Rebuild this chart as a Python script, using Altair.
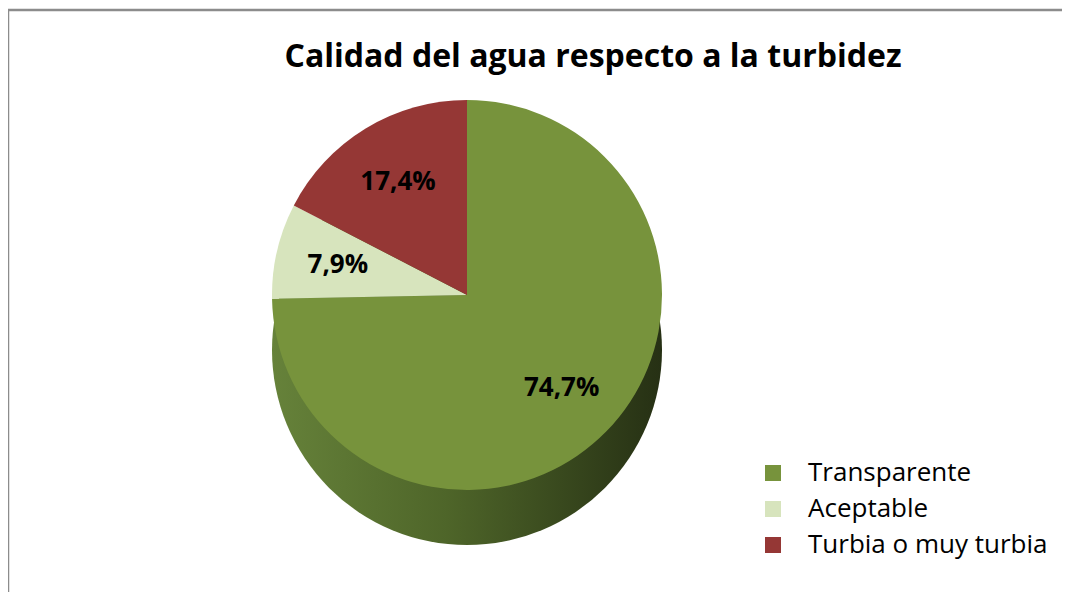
import altair as alt
import pandas as pd

titulo = "Calidad del agua respecto a la turbidez"
categorias = ["Transparente", "Aceptable", "Turbia o muy turbia"]
valores = [74.7, 7.9, 17.4]
colores = ["#77933C", "#D7E4BD", "#953735"]
etiquetas = [f"{v:.1f}".replace(".", ",") + "%" for v in valores]

df = pd.DataFrame({
    "categoria": categorias,
    "valor": valores,
    "etiqueta": etiquetas,
    "orden": list(range(len(categorias))),
})
df_side = pd.DataFrame({"valor": [sum(valores)]})
df_title = pd.DataFrame({"t": [titulo]})

W, H = 1054, 584
CX, CY = 459, 287
R = 195
DEPTH = 55
FONT = "Open Sans"

border = pd.DataFrame({"k": [0]})
top_rule = alt.Chart(border).mark_rule(color="#8c8c8c", strokeWidth=2.5).encode(
    x=alt.value(0), x2=alt.value(W), y=alt.value(2)
)
left_rule = alt.Chart(border).mark_rule(color="#8c8c8c", strokeWidth=2.5).encode(
    x=alt.value(0), y=alt.value(2), y2=alt.value(H)
)

side_grad = alt.LinearGradient(
    gradient="linear",
    stops=[
        alt.GradientStop(offset=0, color="#66823a"),
        alt.GradientStop(offset=0.45, color="#4e6529"),
        alt.GradientStop(offset=1, color="#263014"),
    ],
    x1=0, x2=1, y1=0, y2=0,
)
side = alt.Chart(df_side).mark_arc(radius=R, fill=side_grad).encode(
    theta=alt.Theta("valor:Q", stack=True),
    x=alt.value(CX),
    y=alt.value(CY + DEPTH),
)

pie = alt.Chart(df).mark_arc(radius=R).encode(
    theta=alt.Theta("valor:Q", stack=True),
    order=alt.Order("orden:Q"),
    color=alt.Color(
        "categoria:N",
        scale=alt.Scale(domain=categorias, range=colores),
        sort=categorias,
        legend=alt.Legend(
            title=None,
            orient="none",
            legendX=752,
            legendY=452,
            symbolType="square",
            symbolSize=256,
            symbolStrokeWidth=0,
            labelFont=FONT,
            labelFontSize=26,
            labelColor="#000000",
            labelOffset=22,
            labelLimit=0,
            rowPadding=10,
            padding=0,
        ),
    ),
    x=alt.value(CX),
    y=alt.value(CY),
)

labels = alt.Chart(df).mark_text(
    radius=R * 0.68, font=FONT, fontSize=26, fontWeight="bold", color="#000000"
).encode(
    theta=alt.Theta("valor:Q", stack=True),
    order=alt.Order("orden:Q"),
    text="etiqueta:N",
    x=alt.value(CX),
    y=alt.value(CY),
)

title = alt.Chart(df_title).mark_text(
    font=FONT, fontSize=32, fontWeight="bold", color="#000000", baseline="middle", align="center"
).encode(
    text="t:N",
    x=alt.value(585),
    y=alt.value(49),
)

chart = alt.layer(top_rule, left_rule, side, pie, labels, title).properties(
    width=W, height=H, autosize=alt.AutoSizeParams(type="none"), padding=0
).configure_view(strokeWidth=0)

chart.save("out.html", embed_options={"renderer": "svg", "actions": False})
